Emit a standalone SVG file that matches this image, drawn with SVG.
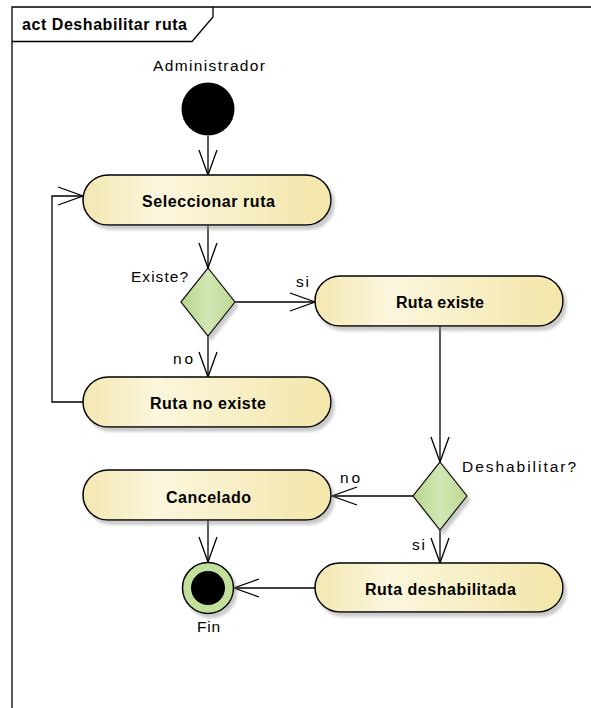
<svg xmlns="http://www.w3.org/2000/svg" width="591" height="708" viewBox="0 0 591 708">
  <style>
    .frame { fill: none; stroke: #000; stroke-width: 1.3; }
    .action { fill: url(#actionFill); stroke: #000; stroke-width: 1.5; filter: url(#shadow); }
    .decision { fill: url(#decisionFill); stroke: #000; stroke-width: 1.2; filter: url(#shadow); }
    .edge { fill: none; stroke: #000; stroke-width: 1.3; marker-end: url(#open); }
    .name { font-family: "Liberation Sans", Arial, sans-serif; font-size: 16px; font-weight: bold; fill: #000; }
    .label { font-family: "Liberation Sans", Arial, sans-serif; font-size: 15.5px; fill: #000; }
  </style>
  <defs>
    <linearGradient id="actionFill" x1="0" y1="0" x2="1" y2="0">
      <stop offset="0" stop-color="#f3e7b1"/>
      <stop offset="0.3" stop-color="#fbf6dd"/>
      <stop offset="1" stop-color="#f3e6a9"/>
    </linearGradient>
    <linearGradient id="decisionFill" x1="0" y1="0" x2="1" y2="0">
      <stop offset="0" stop-color="#b5d68a"/>
      <stop offset="0.5" stop-color="#d2e6b3"/>
      <stop offset="1" stop-color="#bcd993"/>
    </linearGradient>
    <filter id="shadow" x="-10%" y="-20%" width="130%" height="160%">
      <feDropShadow dx="3" dy="4" stdDeviation="1.5" flood-color="#8a8a8a" flood-opacity="0.45"/>
    </filter>
    <marker id="open" markerUnits="userSpaceOnUse" markerWidth="30" markerHeight="24" viewBox="-27 -12 30 24" refX="0" refY="0" orient="auto">
      <path d="M -25 -9 L 0 0 L -25 9" fill="none" stroke="#000" stroke-width="1.3"/>
    </marker>
  </defs>

  <!-- activity frame -->
  <g id="frame">
    <path class="frame" d="M 12 708 V 7 H 591"/>
    <path class="frame" d="M 12 41.5 H 192 L 213 17 V 7"/>
    <text class="name" x="22" y="30" textLength="165" lengthAdjust="spacing">act Deshabilitar ruta</text>
  </g>

  <!-- connectors -->
  <g id="connectors">
    <path class="edge" d="M 208 136 V 175"/>
    <path class="edge" d="M 208 225 V 268"/>
    <path class="edge" d="M 235 302 H 315"/>
    <path class="edge" d="M 208 336 V 377"/>
    <path class="edge" d="M 83 402 H 52 V 196 H 83"/>
    <path class="edge" d="M 440 326 V 462"/>
    <path class="edge" d="M 413 496 H 332"/>
    <path class="edge" d="M 440 530 V 563"/>
    <path class="edge" d="M 208 520 V 562"/>
    <path class="edge" d="M 315 588 H 234"/>
    <text class="label" x="296" y="287" textLength="13" lengthAdjust="spacing">si</text>
    <text class="label" x="173" y="364" textLength="20" lengthAdjust="spacing">no</text>
    <text class="label" x="340" y="483" textLength="20" lengthAdjust="spacing">no</text>
    <text class="label" x="412" y="550" textLength="13" lengthAdjust="spacing">si</text>
  </g>

  <!-- initial node -->
  <g id="inicio">
    <text class="label" x="153" y="71" textLength="112" lengthAdjust="spacing">Administrador</text>
    <circle cx="208" cy="109" r="26.5" fill="#000"/>
  </g>

  <!-- actions -->
  <g id="seleccionar-ruta">
    <rect class="action" x="83" y="175" width="248" height="50" rx="25"/>
    <text class="name" x="142" y="207" textLength="133" lengthAdjust="spacing">Seleccionar ruta</text>
  </g>

  <g id="existe">
    <path class="decision" d="M 208 268 L 235 302 L 208 336 L 181 302 Z"/>
    <text class="label" x="131" y="282" textLength="57" lengthAdjust="spacing">Existe?</text>
  </g>

  <g id="ruta-existe">
    <rect class="action" x="315" y="276" width="248" height="50" rx="25"/>
    <text class="name" x="396" y="308" textLength="88" lengthAdjust="spacing">Ruta existe</text>
  </g>

  <g id="ruta-no-existe">
    <rect class="action" x="83" y="377" width="248" height="50" rx="25"/>
    <text class="name" x="150" y="409" textLength="116" lengthAdjust="spacing">Ruta no existe</text>
  </g>

  <g id="deshabilitar">
    <path class="decision" d="M 440 462 L 467 496 L 440 530 L 413 496 Z"/>
    <text class="label" x="462" y="472" textLength="114" lengthAdjust="spacing">Deshabilitar?</text>
  </g>

  <g id="cancelado">
    <rect class="action" x="83" y="470" width="248" height="50" rx="25"/>
    <text class="name" x="166" y="503" textLength="85" lengthAdjust="spacing">Cancelado</text>
  </g>

  <g id="ruta-deshabilitada">
    <rect class="action" x="315" y="563" width="248" height="49" rx="24.5"/>
    <text class="name" x="365" y="595" textLength="151" lengthAdjust="spacing">Ruta deshabilitada</text>
  </g>

  <!-- final node -->
  <g id="fin">
    <circle cx="208" cy="588" r="25.5" fill="#c3df9c" stroke="#000" stroke-width="1.5" filter="url(#shadow)"/>
    <circle cx="208" cy="588" r="17" fill="#000"/>
    <text class="label" x="197" y="632" textLength="23" lengthAdjust="spacing">Fin</text>
  </g>
</svg>
